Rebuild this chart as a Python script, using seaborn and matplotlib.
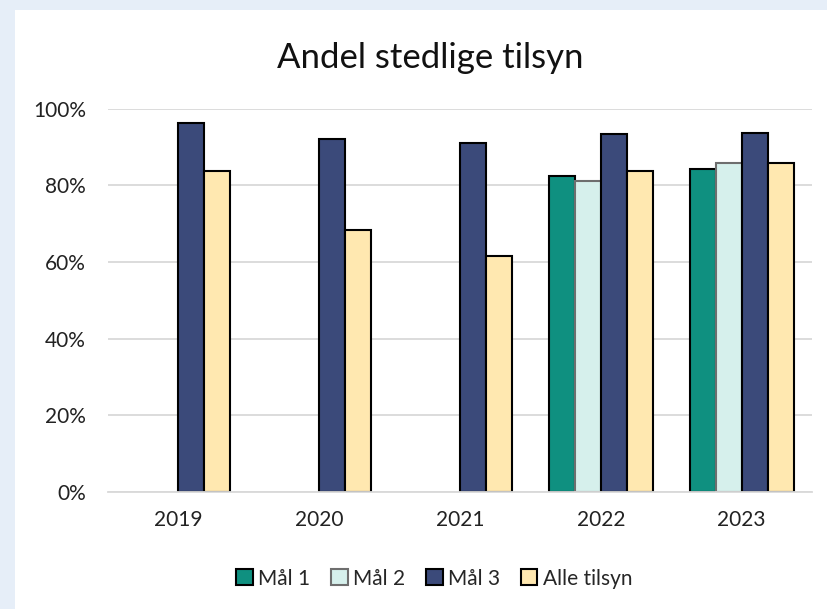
import numpy as np
import pandas as pd
import matplotlib
matplotlib.use("Agg")
import matplotlib.pyplot as plt
from matplotlib.patches import Rectangle
import seaborn as sns

years = ["2019", "2020", "2021", "2022", "2023"]
series = ["Mål 1", "Mål 2", "Mål 3", "Alle tilsyn"]
maal1 = [np.nan, np.nan, np.nan, 0.823, 0.841]
maal2 = [np.nan, np.nan, np.nan, 0.810, 0.858]
maal3 = [0.962, 0.920, 0.910, 0.933, 0.937]
alle = [0.836, 0.683, 0.616, 0.836, 0.859]

colors = ["#0F9080", "#D6F0EC", "#3B4A7A", "#FFE8B0"]
edges = ["#000000", "#6E6E6E", "#000000", "#000000"]

df = pd.DataFrame({"year": years * 4,
                   "serie": np.repeat(series, len(years)),
                   "value": maal1 + maal2 + maal3 + alle})

sns.set_style("white")
plt.rcParams["font.family"] = ["Lato", "DejaVu Sans"]

fig = plt.figure(figsize=(8.27, 6.09), dpi=100)
fig.patch.set_facecolor("#E6EEF8")
fig.patches.append(Rectangle((15 / 827, 0), 1, 1 - 10 / 609, transform=fig.transFigure,
                             facecolor="white", edgecolor="none", zorder=-10))

ax = fig.add_axes([108 / 827, 117 / 609, 704 / 827, 383.5 / 609])
ax.set_facecolor("none")
sns.barplot(data=df, x="year", y="value", hue="serie", order=years, hue_order=series,
            palette=colors, width=0.74, saturation=1, legend=False, ax=ax)

for cont, ec in zip(ax.containers, edges):
    for p in cont:
        p.set_edgecolor(ec)
        p.set_linewidth(1.5)

ax.set_ylim(0, 1)
ax.set_xlim(-0.5, 4.5)
ax.set_yticks(np.arange(0, 1.01, 0.2))
ax.set_yticklabels([f"{int(round(v * 100))}%" for v in np.arange(0, 1.01, 0.2)])
ax.yaxis.grid(True, color="#D9D9D9", linewidth=1.3)
ax.set_axisbelow(True)
for s in ["top", "right", "left"]:
    ax.spines[s].set_visible(False)
ax.spines["bottom"].set_color("#D9D9D9")
ax.spines["bottom"].set_linewidth(1.3)
ax.tick_params(axis="y", length=0, pad=16, labelsize=15, labelcolor="#222222")
ax.tick_params(axis="x", length=0, pad=13, labelsize=15, labelcolor="#222222")
ax.set_xlabel("")
ax.set_ylabel("")

fig.text(0.52, 0.905, "Andel stedlige tilsyn", ha="center", va="center", fontsize=25, color="#111111")

handles = [Rectangle((0, 0), 1, 1, facecolor=c, edgecolor=e, linewidth=1.5) for c, e in zip(colors, edges)]
fig.legend(handles, series, loc="center", bbox_to_anchor=(0.525, 0.05), ncol=4, frameon=False,
           fontsize=15, handlelength=0.8, handleheight=0.8, handletextpad=0.25, columnspacing=1.0)

fig.savefig("out.png", dpi=100, facecolor=fig.get_facecolor())
